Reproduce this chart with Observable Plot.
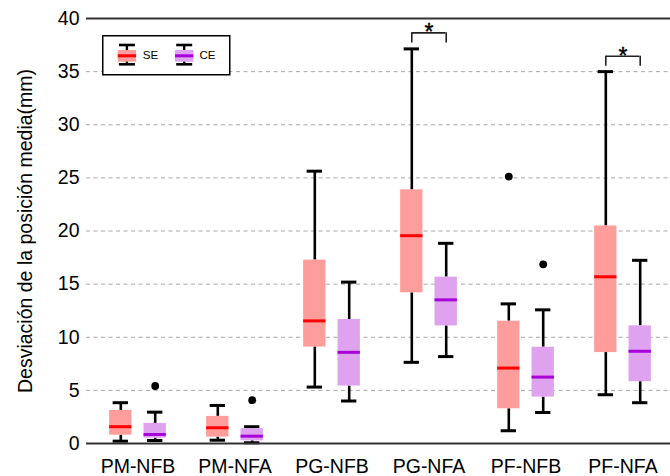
<!DOCTYPE html>
<html>
<head>
<meta charset="utf-8">
<script src="https://cdn.jsdelivr.net/npm/d3@7"></script>
<script src="https://cdn.jsdelivr.net/npm/@observablehq/plot@0.6"></script>
<style>
  html, body { margin: 0; padding: 0; background: #fff; }
  #wrap { position: relative; width: 670px; height: 476px; font-family: "Liberation Sans", Arial, sans-serif; }
  #legend { position: absolute; left: 102px; top: 35px; }
</style>
</head>
<body>
<div id="wrap"></div>
<script>
// ---- data ----
const groups = ["PM-NFB", "PM-NFA", "PG-NFB", "PG-NFA", "PF-NFB", "PF-NFA"];
const seriesNames = ["SE", "CE"];

const seMin = [0.22, 0.31, 5.31, 7.64, 1.2, 4.59];
const seQ1  = [0.78, 0.6, 9.08, 14.18, 3.27, 8.56];
const seMed = [1.58, 1.48, 11.54, 19.56, 7.1, 15.69];
const seQ3  = [3.11, 2.55, 17.26, 23.87, 11.51, 20.47];
const seMax = [3.84, 3.58, 25.63, 37.14, 13.14, 35.0];

const ceMin = [0.28, 0.07, 4.0, 8.18, 2.92, 3.84];
const ceQ1  = [0.5, 0.25, 5.41, 11.07, 4.37, 5.82];
const ceMed = [0.85, 0.69, 8.58, 13.52, 6.25, 8.68];
const ceQ3  = [1.89, 1.39, 11.67, 15.66, 9.06, 11.07];
const ceMax = [2.95, 1.58, 15.19, 18.84, 12.58, 17.24];

const outlierGroup  = ["PM-NFB", "PM-NFA", "PF-NFB", "PF-NFB"];
const outlierSeries = ["CE", "CE", "SE", "CE"];
const outlierValue  = [5.41, 4.08, 25.12, 16.86];

const sigGroups = ["PG-NFA", "PF-NFA"];
const sigTop    = [38.65, 36.45];
const sigLeg    = [37.7, 35.5];
const sigStar   = [38.65, 36.42];

const yTicks = [0, 5, 10, 15, 20, 25, 30, 35, 40];
const gridTicks = [5, 10, 15, 20, 25, 30, 35];
const yLabel = "Desviación de la posición media(mm)";

// ---- styles ----
const fills   = {SE: "#ff9d9d", CE: "#dea2ef"};
const medians = {SE: "#ff0000", CE: "#a800d8"};
const offsets = {SE: -17.2, CE: 17.2};

// ---- tables ----
const stats = {
  SE: groups.map((g, i) => ({group: g, min: seMin[i], q1: seQ1[i], med: seMed[i], q3: seQ3[i], max: seMax[i]})),
  CE: groups.map((g, i) => ({group: g, min: ceMin[i], q1: ceQ1[i], med: ceMed[i], q3: ceQ3[i], max: ceMax[i]}))
};
const outliers = outlierGroup.map((g, i) => ({group: g, series: outlierSeries[i], value: outlierValue[i]}));
const sig = sigGroups.map((g, i) => ({group: g, top: sigTop[i], leg: sigLeg[i], star: sigStar[i]}));

const xRange = [86.8, 672.8];
const bw = (xRange[1] - xRange[0]) / groups.length;
const boxInset = (bw - 23) / 2;
const capInset = (bw - 16) / 2;
const brInset = bw / 2 - 17.2;

const boxMarks = seriesNames.flatMap(s => {
  const d = stats[s], dx = offsets[s];
  return [
    Plot.ruleX(d, {x: "group", y1: "q3", y2: "max", dx, stroke: "#000", strokeWidth: 2.6}),
    Plot.ruleX(d, {x: "group", y1: "min", y2: "q1", dx, stroke: "#000", strokeWidth: 2.6}),
    Plot.tickY(d, {x: "group", y: "max", dx, insetLeft: capInset, insetRight: capInset, stroke: "#000", strokeWidth: 3}),
    Plot.tickY(d, {x: "group", y: "min", dx, insetLeft: capInset, insetRight: capInset, stroke: "#000", strokeWidth: 3}),
    Plot.barY(d, {x: "group", y1: "q1", y2: "q3", dx, insetLeft: boxInset, insetRight: boxInset, fill: fills[s]}),
    Plot.tickY(d, {x: "group", y: "med", dx, insetLeft: boxInset, insetRight: boxInset, stroke: medians[s], strokeWidth: 3}),
    Plot.dot(outliers.filter(o => o.series === s), {x: "group", y: "value", dx, r: 3.9, fill: "#000", stroke: "none"})
  ];
});

const chart = Plot.plot({
  width: 670,
  height: 476,
  marginLeft: 86,
  marginRight: 0,
  marginTop: 18,
  marginBottom: 33,
  style: {fontFamily: "'Liberation Sans', Arial, sans-serif", background: "#fff", color: "#000"},
  x: {type: "band", domain: groups, range: xRange, padding: 0},
  y: {domain: [0, 40]},
  marks: [
    Plot.gridY(gridTicks, {stroke: "#a8a8a8", strokeOpacity: 1, strokeDasharray: "4,3.5"}),
    ...boxMarks,
    Plot.tickY(sig, {x: "group", y: "top", insetLeft: brInset, insetRight: brInset, stroke: "#222", strokeWidth: 1.6}),
    Plot.ruleX(sig, {x: "group", y1: "leg", y2: "top", dx: offsets.SE, stroke: "#222", strokeWidth: 1.6}),
    Plot.ruleX(sig, {x: "group", y1: "leg", y2: "top", dx: offsets.CE, stroke: "#222", strokeWidth: 1.6}),
    Plot.text(sig, {x: "group", y: "star", text: () => "*", fontSize: 23, fill: "#000", stroke: "#000", strokeWidth: 0.4}),
    Plot.ruleY([0, 40], {stroke: "#333", strokeWidth: 2}),
    Plot.axisY({ticks: yTicks, tickSize: 0, tickPadding: 7, fontSize: 19.5, line: true, stroke: "#333", strokeWidth: 2, label: null}),
    Plot.axisY({ticks: [], tickSize: 0, fontSize: 19.5, dy: 7,
      label: yLabel, labelAnchor: "center", labelArrow: "none", labelOffset: 68}),
    Plot.axisX({tickSize: 0, tickPadding: 16, fontSize: 19.5, label: null})
  ]
});

const wrap = document.getElementById("wrap");
wrap.appendChild(chart);

// ---- legend (inside plot area) ----
function icon(x0, fill, med) {
  const c = x0 + 9.2;
  return `
    <line x1="${c}" x2="${c}" y1="10" y2="29.5" stroke="#000" stroke-width="2.4"/>
    <line x1="${c - 8}" x2="${c + 8}" y1="10" y2="10" stroke="#000" stroke-width="2.6"/>
    <line x1="${c - 8}" x2="${c + 8}" y1="29.3" y2="29.3" stroke="#000" stroke-width="2.6"/>
    <rect x="${x0}" y="15" width="18.4" height="11.7" fill="${fill}"/>
    <line x1="${x0}" x2="${x0 + 18.4}" y1="20.8" y2="20.8" stroke="${med}" stroke-width="3"/>`;
}
const legend = document.createElement("div");
legend.id = "legend";
legend.innerHTML = `<svg width="129" height="41" xmlns="http://www.w3.org/2000/svg" font-family="'Liberation Sans', Arial, sans-serif">
  <rect x="0.75" y="0.75" width="127" height="39" fill="#fff" stroke="#000" stroke-width="1.5"/>
  ${icon(15.7, fills.SE, medians.SE)}
  <text x="40.7" y="24.4" font-size="11.6" fill="#000">${seriesNames[0]}</text>
  ${icon(73, fills.CE, medians.CE)}
  <text x="97.5" y="24.4" font-size="11.6" fill="#000">${seriesNames[1]}</text>
</svg>`;
wrap.appendChild(legend);
</script>
</body>
</html>
